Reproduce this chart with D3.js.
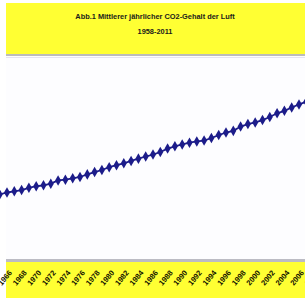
<!DOCTYPE html>
<html>
<head>
<meta charset="utf-8">
<script src="https://cdn.jsdelivr.net/npm/d3@7"></script>
<style>
  html, body { margin: 0; padding: 0; background: #ffffff; }
  svg { display: block; }
  text { font-family: "Liberation Sans", Arial, sans-serif; font-weight: bold; }
</style>
</head>
<body>
<svg id="chart"></svg>
<script>
// Jahresmittel CO2 (ppm), Mauna Loa
const years = d3.range(1958, 2012);
const co2 = [315.97, 315.97, 316.91, 317.64, 318.45, 318.99, 319.62, 320.04, 321.38, 322.16,
             323.04, 324.62, 325.68, 326.32, 327.45, 329.68, 330.18, 331.11, 332.04, 333.83,
             335.40, 336.84, 338.75, 340.11, 341.45, 343.05, 344.65, 346.12, 347.42, 349.19,
             351.57, 353.12, 354.39, 355.61, 356.45, 357.10, 358.83, 360.82, 362.61, 363.73,
             366.70, 368.38, 369.55, 371.14, 373.28, 375.80, 377.52, 379.80, 381.90, 383.79,
             385.60, 387.43, 389.90, 391.65];
const titleLines = ['Abb.1 Mittlerer jährlicher CO2-Gehalt der Luft', '1958-2011'];
const tickYears = d3.range(1966, 2012, 2);

const width = 305;
const height = 298;

const svg = d3.select('#chart')
    .attr('width', width)
    .attr('height', height);

// title box with shadow
svg.append('rect')
    .attr('x', 6).attr('y', 53).attr('width', width).attr('height', 3)
    .attr('fill', '#bcbcbc');
svg.append('rect')
    .attr('x', 6).attr('y', 3).attr('width', width).attr('height', 51)
    .attr('fill', '#ffff33');

svg.selectAll('.title')
    .data(titleLines)
    .enter().append('text')
    .attr('class', 'title')
    .attr('x', 155)
    .attr('y', (d, i) => 19 + i * 15)
    .attr('text-anchor', 'middle')
    .attr('font-size', 7.4)
    .attr('fill', '#1a1a1a')
    .text(d => d);

// plot area
svg.append('rect')
    .attr('x', 6).attr('y', 56).attr('width', width).attr('height', 203)
    .attr('fill', '#fdfdff');
svg.append('line')
    .attr('x1', 6).attr('x2', width).attr('y1', 57.5).attr('y2', 57.5)
    .attr('stroke', '#e6e4f2');

// bottom band (x axis)
svg.append('rect')
    .attr('x', 6).attr('y', 259).attr('width', width).attr('height', 3)
    .attr('fill', '#bcbcc4');
svg.append('rect')
    .attr('x', 6).attr('y', 262).attr('width', width).attr('height', 40)
    .attr('fill', '#ffff33');

// scales
const x = d3.scaleLinear().domain([1966, 2006]).range([7, 299]);
const y = d3.scaleLinear().domain([300, 400]).range([223.6, 78.1]);

const data = years.map((yr, i) => ({year: yr, value: co2[i]}));

const line = d3.line()
    .x(d => x(d.year))
    .y(d => y(d.value));

svg.append('path')
    .datum(data)
    .attr('fill', 'none')
    .attr('stroke', '#1c1c8a')
    .attr('stroke-width', 1.8)
    .attr('d', line);

svg.selectAll('.marker')
    .data(data)
    .enter().append('path')
    .attr('class', 'marker')
    .attr('transform', d => `translate(${x(d.year)},${y(d.value)})`)
    .attr('d', d3.symbol().type(d3.symbolDiamond).size(32))
    .attr('fill', '#1c1c8a');

// x axis labels
const xAxis = svg.append('g')
    .attr('transform', 'translate(0,262)')
    .call(d3.axisBottom(x).tickValues(tickYears).tickFormat(d3.format('d')).tickSize(0));

xAxis.select('.domain').remove();
xAxis.selectAll('text')
    .attr('font-family', '"Liberation Sans", Arial, sans-serif')
    .attr('font-weight', 'bold')
    .attr('font-size', 7.6)
    .attr('fill', '#141400')
    .attr('text-anchor', 'end')
    .attr('dy', 0)
    .attr('y', 0)
    .attr('transform', 'translate(5,11) rotate(-50)');
</script>
</body>
</html>
